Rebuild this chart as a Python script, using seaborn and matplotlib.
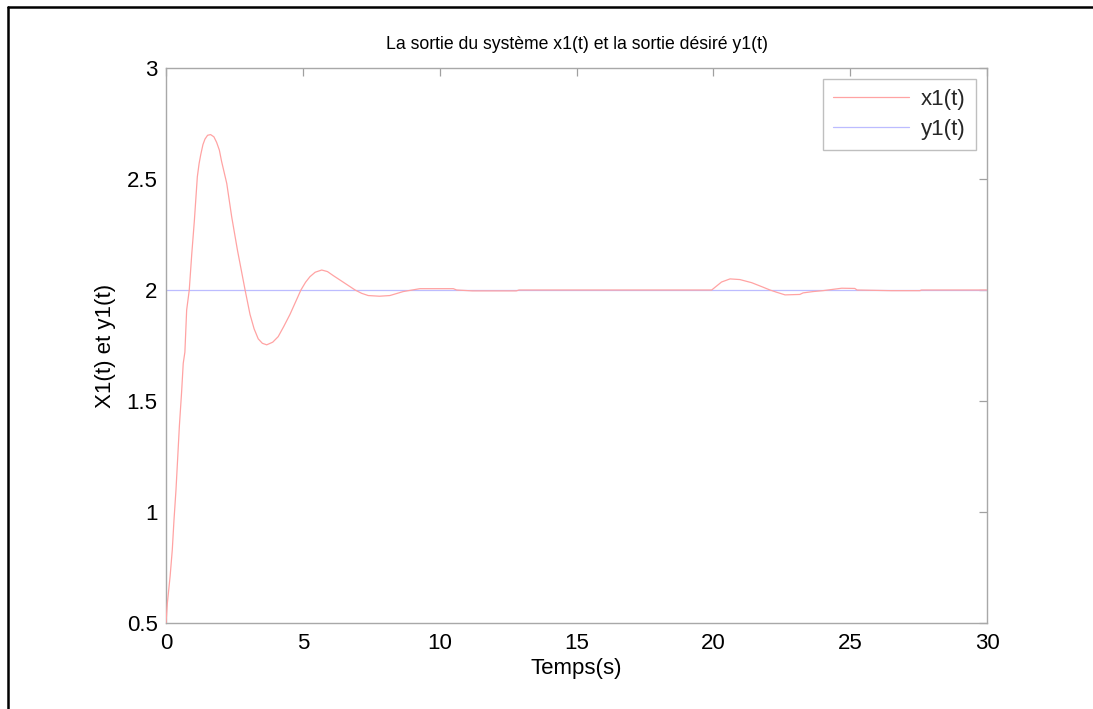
import matplotlib
matplotlib.use("Agg")
import matplotlib.pyplot as plt
import seaborn as sns
import pandas as pd
from matplotlib.lines import Line2D

# ---- data ----
t_x1 = [0, 0.05, 0.15, 0.23, 0.29, 0.365, 0.43, 0.49, 0.57, 0.63, 0.69, 0.755,
        0.85, 0.94, 1.035, 1.145, 1.21, 1.27, 1.35, 1.425, 1.52, 1.63, 1.75,
        1.85, 1.95, 2.03, 2.22, 2.40, 2.61, 2.89, 3.07, 3.22, 3.37, 3.52,
        3.68, 3.9, 4.10, 4.30, 4.53, 4.73, 4.93, 5.10, 5.26, 5.45, 5.69, 5.90,
        6.11, 6.48, 6.91, 7.15, 7.39, 7.8, 8.18, 8.67, 9.28, 10.5, 10.62,
        11.2, 12.8, 12.9, 19.94, 20.30, 20.61, 20.97, 21.4, 21.77, 22.07,
        22.31, 22.62, 23.16, 23.28, 23.65, 24.0, 24.69, 25.17, 25.25, 26.5,
        27.55, 27.6, 30]
x1 = [0.5, 0.59, 0.71, 0.83, 0.96, 1.10, 1.25, 1.39, 1.54, 1.67, 1.72, 1.91,
      2.0, 2.16, 2.31, 2.51, 2.57, 2.61, 2.655, 2.68, 2.697, 2.70, 2.69,
      2.665, 2.63, 2.58, 2.48, 2.33, 2.18, 2.0, 1.89, 1.825, 1.78, 1.76,
      1.753, 1.765, 1.79, 1.835, 1.89, 1.945, 2.0, 2.035, 2.06, 2.08, 2.09,
      2.083, 2.065, 2.035, 2.0, 1.985, 1.975, 1.972, 1.975, 1.993, 2.006,
      2.006, 2.0, 1.996, 1.996, 2.0, 2.0, 2.036, 2.05, 2.047, 2.033, 2.015,
      2.0, 1.99, 1.978, 1.98, 1.987, 1.993, 1.997, 2.008, 2.007, 2.0, 1.997,
      1.997, 2.0, 2.0]
t_y1 = [0, 30]
y1 = [2, 2]

x_ticks = [0, 5, 10, 15, 20, 25, 30]
y_ticks = [0.5, 1, 1.5, 2, 2.5, 3]
y_tick_labels = ["0.5", "1", "1.5", "2", "2.5", "3"]

title = "La sortie du système x1(t) et la sortie désiré y1(t)"
xlabel = "Temps(s)"
ylabel = "X1(t) et y1(t)"

sns.set_style("white")
plt.rcParams["font.family"] = ["Liberation Sans", "DejaVu Sans"]

fig = plt.figure(figsize=(10.93, 7.09), dpi=100)
ax = fig.add_axes([166 / 1093, 86 / 709, 821 / 1093, 555 / 709])

df_x = pd.DataFrame({"t": t_x1, "v": x1})
df_y = pd.DataFrame({"t": t_y1, "v": y1})

sns.lineplot(data=df_x, x="t", y="v", ax=ax, color="#ffa3a3", linewidth=0.9,
             label="x1(t)", zorder=3, estimator=None, sort=False)
sns.lineplot(data=df_y, x="t", y="v", ax=ax, color="#bcbcff", linewidth=0.9,
             label="y1(t)", zorder=2, estimator=None, sort=False)

ax.set_xlim(0, 30)
ax.set_ylim(0.5, 3)
ax.set_xticks(x_ticks)
ax.set_xticklabels([str(v) for v in x_ticks])
ax.set_yticks(y_ticks)
ax.set_yticklabels(y_tick_labels)

for s in ax.spines.values():
    s.set_color("#a8a8a8")
    s.set_linewidth(1.0)
    s.set_visible(True)

ax.tick_params(direction="in", length=6, width=0.9, color="#a0a0a0",
               labelsize=16, labelcolor="black", top=True, right=True)
ax.tick_params(axis="x", pad=7)
ax.tick_params(axis="y", pad=6)

ax.set_title(title, fontsize=12.7, pad=14, color="black")
ax.set_xlabel(xlabel, fontsize=16, labelpad=3, color="black")
ax.set_ylabel(ylabel, fontsize=16, labelpad=8, color="black")

leg = ax.legend(loc="upper right", bbox_to_anchor=(0.9866, 0.980),
                borderaxespad=0, fontsize=16, frameon=True, fancybox=False,
                handlelength=3.4, handletextpad=0.55, labelspacing=0.4,
                borderpad=0.45)
leg.get_frame().set_edgecolor("#b0b0b0")
leg.get_frame().set_linewidth(1.0)

# outer black frame: only the top and left edges are visible in the picture
top_y = 1 - 6.5 / 709
left_x = 7.5 / 1093
fig.add_artist(Line2D([left_x, 1.0], [top_y, top_y], transform=fig.transFigure,
                      color="black", linewidth=1.8))
fig.add_artist(Line2D([left_x, left_x], [0.0, top_y], transform=fig.transFigure,
                      color="black", linewidth=1.8))

fig.savefig("out.png", dpi=100)
